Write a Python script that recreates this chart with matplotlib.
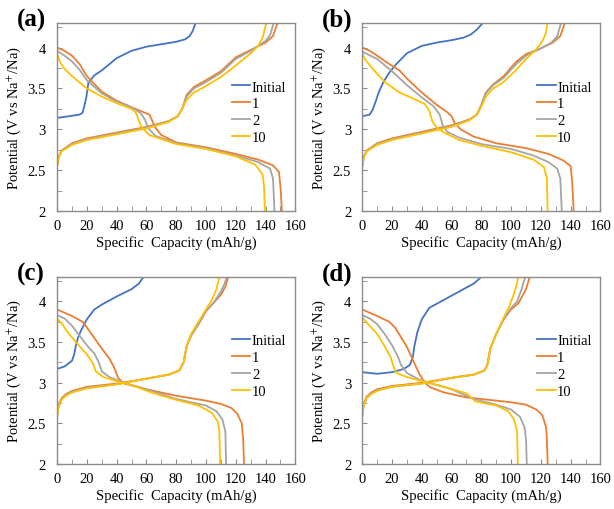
import matplotlib
matplotlib.use('Agg')
import matplotlib.pyplot as plt
from matplotlib.ticker import MultipleLocator, FuncFormatter

plt.rcParams['font.family'] = ['Liberation Serif', 'DejaVu Serif']
plt.rcParams['mathtext.fontset'] = 'stix'

# series labels and colours (Excel-like palette)
labels = ['Initial', '1', '2', '10']
colors = ['#4472C4', '#ED7D31', '#A5A5A5', '#FFC000']
panel_tags = ['(a)', '(b)', '(c)', '(d)']

# ---- panel (a): (capacity mAh/g, potential V) ----
a_init = [(0, 3.14), (8, 3.16), (15, 3.18), (17, 3.2), (18.5, 3.3), (19.7, 3.4), (21, 3.57),
          (25, 3.66), (30, 3.72), (40, 3.87), (50, 3.96), (60, 4.01), (70, 4.04),
          (80, 4.07), (86, 4.1), (89, 4.14), (91, 4.2), (93, 4.3)]
a_dis1 = [(0, 4.0), (5, 3.96), (10, 3.9), (15, 3.8), (20, 3.65), (30, 3.46), (40, 3.35),
          (50, 3.27), (58, 3.21), (62, 3.18), (64, 3.1), (66, 3.02), (70, 2.93),
          (80, 2.84), (100, 2.78), (120, 2.7), (135, 2.63), (145, 2.56), (149, 2.48),
          (150, 2.3), (151, 2.0)]
a_dis2 = [(0, 3.96), (5, 3.9), (10, 3.83), (15, 3.73), (20, 3.6), (30, 3.44), (40, 3.34),
          (50, 3.27), (56, 3.2), (59, 3.12), (61, 3.02), (66, 2.92), (80, 2.83),
          (100, 2.77), (120, 2.68), (135, 2.6), (143, 2.52), (145, 2.4), (146, 2.0)]
a_dis10 = [(0, 3.93), (2, 3.82), (5, 3.74), (10, 3.65), (20, 3.5), (30, 3.4), (40, 3.32),
           (50, 3.25), (53, 3.2), (55, 3.1), (57, 3.02), (62, 2.93), (80, 2.82),
           (100, 2.76), (120, 2.67), (133, 2.57), (138, 2.45), (139, 2.3), (139.5, 2.0)]
a_chg1 = [(0, 2.55), (1, 2.66), (3, 2.74), (10, 2.83), (20, 2.89), (40, 2.96), (60, 3.03),
          (75, 3.1), (81, 3.16), (84, 3.25), (87, 3.42), (92, 3.52), (100, 3.6),
          (110, 3.71), (120, 3.88), (130, 3.97), (140, 4.06), (145, 4.14), (148, 4.3)]
a_chg2 = [(0, 2.55), (1, 2.66), (3, 2.74), (10, 2.82), (20, 2.88), (40, 2.95), (60, 3.02),
          (75, 3.1), (81, 3.16), (84, 3.25), (87, 3.4), (92, 3.5), (100, 3.58),
          (110, 3.69), (120, 3.86), (130, 3.96), (140, 4.08), (143, 4.15), (145.5, 4.3)]
a_chg10 = [(0, 2.55), (1, 2.66), (3, 2.73), (10, 2.81), (20, 2.87), (40, 2.94), (60, 3.01),
           (75, 3.09), (81, 3.16), (84, 3.25), (87, 3.36), (92, 3.45), (100, 3.53),
           (110, 3.64), (120, 3.78), (130, 3.93), (135, 4.02), (138, 4.12), (140.5, 4.3)]

# ---- panel (b) ----
b_init = [(0, 3.16), (5, 3.18), (7, 3.24), (9, 3.34), (11, 3.45), (14, 3.57), (18, 3.69),
          (23, 3.8), (30, 3.93), (40, 4.02), (50, 4.06), (60, 4.09), (68, 4.12),
          (73, 4.16), (77, 4.22), (81, 4.3)]
b_dis1 = [(0, 4.0), (5, 3.96), (10, 3.9), (18, 3.8), (25, 3.72), (30, 3.62), (40, 3.45),
          (50, 3.3), (57, 3.21), (60, 3.16), (62, 3.08), (66, 3.0), (75, 2.91),
          (90, 2.83), (110, 2.77), (125, 2.7), (135, 2.62), (140, 2.55), (141, 2.35),
          (142, 2.0)]
b_dis2 = [(0, 3.95), (10, 3.86), (20, 3.71), (30, 3.54), (40, 3.39), (48, 3.28), (52, 3.18),
          (54, 3.05), (57, 2.97), (65, 2.9), (80, 2.82), (100, 2.76), (115, 2.68),
          (125, 2.6), (131, 2.52), (133, 2.4), (134, 2.0)]
b_dis10 = [(0, 3.93), (2, 3.85), (8, 3.72), (15, 3.58), (25, 3.45), (35, 3.37), (42, 3.31),
           (45, 3.23), (47, 3.1), (50, 3.02), (55, 2.96), (65, 2.87), (80, 2.8),
           (100, 2.72), (115, 2.63), (122, 2.54), (124, 2.4), (124.5, 2.0)]
b_chg1 = [(0, 2.55), (1, 2.66), (3, 2.74), (10, 2.83), (20, 2.89), (40, 2.97), (60, 3.05),
          (72, 3.12), (77, 3.18), (80, 3.3), (83, 3.45), (88, 3.55), (95, 3.65),
          (103, 3.82), (110, 3.92), (120, 3.99), (128, 4.06), (133, 4.14), (136, 4.3)]
b_chg2 = [(0, 2.55), (1, 2.66), (3, 2.74), (10, 2.82), (20, 2.88), (40, 2.96), (60, 3.04),
          (72, 3.12), (77, 3.18), (80, 3.3), (83, 3.44), (88, 3.54), (95, 3.63),
          (103, 3.79), (110, 3.9), (120, 3.99), (127, 4.06), (131, 4.14), (133.5, 4.3)]
b_chg10 = [(0, 2.55), (1, 2.65), (3, 2.73), (10, 2.81), (20, 2.87), (40, 2.95), (60, 3.03),
           (72, 3.11), (77, 3.18), (80, 3.28), (83, 3.4), (88, 3.5), (95, 3.58),
           (103, 3.72), (110, 3.86), (117, 3.98), (121, 4.08), (123, 4.16), (124.5, 4.3)]

# ---- panel (c) ----
c_init = [(0, 3.17), (5, 3.2), (10, 3.27), (11.5, 3.35), (12.5, 3.45), (14, 3.55),
          (16, 3.64), (20, 3.78), (25, 3.9), (30, 3.96), (40, 4.06), (50, 4.15),
          (55, 4.22), (58, 4.3)]
c_dis1 = [(0, 3.9), (5, 3.86), (10, 3.82), (17, 3.75), (20, 3.68), (25, 3.55), (30, 3.42),
          (35, 3.3), (38, 3.2), (41, 3.06), (45, 2.99), (60, 2.92), (80, 2.84),
          (100, 2.78), (110, 2.74), (117, 2.69), (121, 2.62), (124, 2.5), (125, 2.3),
          (125.5, 2.0)]
c_dis2 = [(0, 3.83), (5, 3.79), (10, 3.7), (15, 3.58), (20, 3.46), (25, 3.36), (28, 3.25),
          (30, 3.14), (35, 3.07), (45, 3.0), (60, 2.92), (80, 2.8), (100, 2.72),
          (107, 2.65), (111, 2.55), (113, 2.4), (113.5, 2.0)]
c_dis10 = [(0, 3.79), (3, 3.73), (8, 3.6), (15, 3.45), (20, 3.35), (24, 3.24), (26, 3.14),
           (31, 3.07), (40, 3.02), (50, 2.97), (65, 2.87), (80, 2.79), (95, 2.72),
           (104, 2.63), (108, 2.52), (109, 2.4), (109.5, 2.0)]
c_chg1 = [(0, 2.6), (1, 2.73), (3, 2.81), (6, 2.86), (10, 2.9), (20, 2.95), (40, 2.99),
          (60, 3.05), (75, 3.1), (82, 3.15), (85, 3.25), (87, 3.45), (90, 3.58),
          (95, 3.72), (100, 3.88), (105, 3.98), (110, 4.08), (113, 4.18), (115, 4.3)]
c_chg2 = [(0, 2.6), (1, 2.72), (3, 2.8), (6, 2.85), (10, 2.89), (20, 2.94), (40, 2.98),
          (60, 3.05), (75, 3.1), (82, 3.15), (85, 3.25), (87, 3.45), (90, 3.58),
          (95, 3.72), (100, 3.88), (105, 3.98), (110, 4.12), (112.5, 4.22), (114, 4.3)]
c_chg10 = [(0, 2.58), (1, 2.7), (3, 2.79), (6, 2.84), (10, 2.88), (20, 2.93), (40, 2.98),
           (60, 3.05), (75, 3.1), (82, 3.15), (85, 3.25), (87, 3.45), (90, 3.6),
           (95, 3.75), (100, 3.9), (104, 4.02), (107, 4.15), (109, 4.3)]

# ---- panel (d) ----
d_init = [(0, 3.13), (10, 3.11), (20, 3.13), (28, 3.17), (32, 3.22), (34, 3.32), (35, 3.45),
          (37, 3.62), (40, 3.78), (45, 3.92), (55, 4.02), (65, 4.12), (75, 4.22),
          (80, 4.3)]
d_dis1 = [(0, 3.9), (10, 3.82), (18, 3.75), (22, 3.68), (26, 3.56), (30, 3.44),
          (34, 3.28), (38, 3.12), (42, 3.0), (46, 2.94), (55, 2.88), (70, 2.82),
          (85, 2.79), (100, 2.76), (110, 2.73), (117, 2.67), (121, 2.6), (123.5, 2.45),
          (124, 2.3), (124.5, 2.0)]
d_dis2 = [(0, 3.83), (5, 3.79), (10, 3.72), (15, 3.6), (20, 3.46), (24, 3.32), (26, 3.22),
          (30, 3.12), (38, 3.04), (45, 3.0), (60, 2.92), (75, 2.8), (90, 2.73),
          (100, 2.67), (106, 2.58), (109, 2.45), (110, 2.3), (110.5, 2.0)]
d_dis10 = [(0, 3.8), (5, 3.7), (10, 3.6), (15, 3.45), (19, 3.32), (21, 3.2), (23, 3.12),
           (30, 3.07), (40, 3.02), (55, 2.95), (70, 2.87), (76, 2.77), (90, 2.72),
           (98, 2.65), (102, 2.55), (104, 2.4), (104.5, 2.0)]
d_chg1 = [(0, 2.6), (1, 2.74), (3, 2.83), (6, 2.88), (10, 2.92), (20, 2.96), (40, 3.0),
          (60, 3.06), (75, 3.1), (82, 3.15), (84, 3.22), (86, 3.42), (90, 3.6),
          (95, 3.78), (100, 3.9), (105, 3.98), (110, 4.15), (112.5, 4.3)]
d_chg2 = [(0, 2.6), (1, 2.73), (3, 2.82), (6, 2.87), (10, 2.91), (20, 2.95), (40, 2.99),
          (60, 3.06), (75, 3.1), (82, 3.15), (84, 3.22), (86, 3.42), (90, 3.6),
          (95, 3.78), (100, 3.92), (104, 4.0), (107, 4.15), (109.5, 4.3)]
d_chg10 = [(0, 2.6), (1, 2.72), (3, 2.81), (6, 2.86), (10, 2.9), (20, 2.95), (40, 2.99),
           (60, 3.06), (75, 3.1), (82, 3.15), (84, 3.22), (86, 3.42), (90, 3.6),
           (95, 3.8), (99, 3.95), (102, 4.1), (105, 4.3)]

panels = [
    [a_init, a_dis1, a_dis2, a_dis10, a_chg1, a_chg2, a_chg10],
    [b_init, b_dis1, b_dis2, b_dis10, b_chg1, b_chg2, b_chg10],
    [c_init, c_dis1, c_dis2, c_dis10, c_chg1, c_chg2, c_chg10],
    [d_init, d_dis1, d_dis2, d_dis10, d_chg1, d_chg2, d_chg10],
]

fig = plt.figure(figsize=(6.14, 5.10), dpi=100)

# axes boxes in figure fractions: left, bottom, width, height
boxes = [(0.093, 0.584, 0.388, 0.369), (0.590, 0.584, 0.388, 0.369),
         (0.093, 0.088, 0.388, 0.367), (0.590, 0.088, 0.388, 0.367)]
frame = '#8c8c8c'

for i, curves in enumerate(panels):
    ax = fig.add_axes(boxes[i])
    init = curves[0]
    ax.plot([p[0] for p in init], [p[1] for p in init], color=colors[0], lw=1.3,
            label=labels[0])
    for k in range(3):
        dis = curves[1 + k]
        chg = curves[4 + k]
        ax.plot([p[0] for p in dis], [p[1] for p in dis], color=colors[1 + k], lw=1.3,
                label=labels[1 + k])
        ax.plot([p[0] for p in chg], [p[1] for p in chg], color=colors[1 + k], lw=1.3)

    ax.set_xlim(0, 160)
    ax.set_ylim(2, 4.3)
    ax.xaxis.set_major_locator(MultipleLocator(20))
    ax.xaxis.set_minor_locator(MultipleLocator(10))
    ax.yaxis.set_major_locator(MultipleLocator(0.5))
    ax.yaxis.set_minor_locator(MultipleLocator(0.25))
    ax.yaxis.set_major_formatter(FuncFormatter(lambda v, pos: f'{v:g}'))
    ax.tick_params(which='both', direction='in', color=frame, labelsize=10.5,
                   top=False, right=False)
    ax.tick_params(which='major', length=3.5)
    ax.tick_params(axis='x', which='major', pad=6)
    ax.tick_params(axis='y', which='major', pad=8)
    ax.tick_params(which='minor', length=3.5)
    for s in ax.spines.values():
        s.set_color(frame)
        s.set_linewidth(1.0)

    ax.set_xlabel('Specific  Capacity (mAh/g)', fontsize=10.5, labelpad=2)
    ax.set_ylabel('Potential (V vs Na$^{+}$/Na)', fontsize=10.5, labelpad=3)

    ax.legend(loc='upper left', bbox_to_anchor=(0.735, 0.695), frameon=False,
              fontsize=10.5, handlelength=1.25, handletextpad=0.1,
              labelspacing=0.25, borderaxespad=0, borderpad=0)

    fig.text(boxes[i][0] - 0.066, boxes[i][1] + boxes[i][3] + 0.03, panel_tags[i],
             fontsize=18, fontweight='bold', va='top', ha='left')

fig.savefig('out.png', dpi=100)
